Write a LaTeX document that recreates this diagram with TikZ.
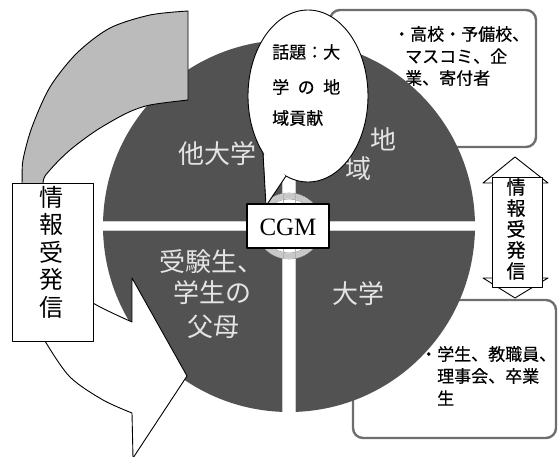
\documentclass[tikz,border=0pt]{standalone}
\usepackage{fontspec}
\setmainfont{Noto Sans CJK JP}
\newfontfamily\heavyjp[FakeBold=0.5]{Noto Sans CJK JP}
\newfontfamily\cgmfont{Liberation Serif}
\definecolor{darkpie}{RGB}{82,82,82}
\definecolor{lightband}{RGB}{187,187,187}
\definecolor{boxline}{RGB}{110,110,110}
\definecolor{labeltext}{RGB}{228,228,228}
\definecolor{ringgray}{RGB}{200,200,200}
\tikzset{
  infobox/.style={draw=boxline, line width=2.4pt, rounded corners=10pt, fill=white},
  boxtext/.style={inner sep=0pt, anchor=west, font=\heavyjp\fontsize{17}{20}\selectfont},
  bubbletext/.style={inner sep=0pt, anchor=west, font=\heavyjp\fontsize{17}{20}\selectfont},
  pielabel/.style={inner sep=0pt, text=labeltext, align=center, font=\fontsize{26}{31}\selectfont},
  outlined/.style={draw=black, line width=0.9pt, line join=round},
  bandstyle/.style={fill=white, draw=gray!40, line width=0.7pt},
}
\begin{document}
\begin{tikzpicture}[x=1pt,y=-1pt]
\useasboundingbox (0,0) rectangle (558,457);

% information boxes (behind the circle)
\draw[infobox] (330,10) rectangle (536,147);
\node[boxtext] (tr1) at (393,34) {・高校・予備校、};
\node[boxtext] (tr2) at (405,56) {マスコミ、企};
\node[boxtext] (tr3) at (405,78) {業、寄付者};

\draw[infobox] (353,300) rectangle (556,438);
\node[boxtext] (br1) at (420,354) {・学生、教職員、};
\node[boxtext] (br2) at (437,376) {理事会、卒業};
\node[boxtext] (br3) at (437,398) {生};

% the big circle in four quarters
\fill[darkpie] (289,226) circle [radius=186];
\begin{scope}
  \clip (289,226) circle [radius=186];
  \draw[bandstyle] (95,221.5) rectangle (480,230.5);
  \draw[bandstyle] (282,35) rectangle (295,420);
\end{scope}
% centre ring
\fill[white] (289,226) circle [radius=33];
\draw[ringgray, line width=5pt] (289,226) circle [radius=30];
\draw[gray!75, line width=0.6pt] (289,226) circle [radius=33];
\draw[gray!75, line width=0.6pt] (289,226) circle [radius=27];
\draw[gray!60, line width=0.6pt] (283,193) -- (283,259) (295,193) -- (295,259);

% quarter labels
\node[pielabel] (q1) at (217,154) {他大学};
\node[pielabel] (q2a) at (383,139) {地};
\node[pielabel] (q2b) at (358,169) {域};
\node[pielabel] (q3a) at (211,262) {受験生、};
\node[pielabel] (q3b) at (212,293) {学生の};
\node[pielabel] (q3c) at (213,327) {父母};
\node[pielabel] (q4) at (358,294) {大学};

% left circular arrow: grey tail part
\filldraw[outlined, fill=lightband]
  plot[smooth] coordinates {(188,11) (150,15) (110,28) (77,53) (50,87) (32,127) (23,160) (22,183) (20,225)}
  -- plot[smooth] coordinates {(44,225) (43,183) (50,170) (70,150) (97,130) (127,113) (150,105) (188,100)}
  -- cycle;
% left circular arrow: white head part
\filldraw[outlined, fill=white]
  plot[smooth] coordinates {(20,225) (22,275) (31,312) (45,341) (70,377) (103,400) (132,413)}
  -- (133,458) -- (187,376) -- (132,278) -- (132,322)
  -- plot[smooth] coordinates {(132,322) (93,303) (66,280) (50,255) (44,225)}
  -- cycle;

% left text box
\draw[outlined, fill=white] (12,183) rectangle (93,341);
\node[inner sep=0pt, align=center, font=\fontsize{24}{27.5}\selectfont] (lefttext) at (51,252) {情\\報\\受\\発\\信};

% right double arrow with text box
\filldraw[outlined, fill=white] (515,157) -- (548,183) -- (535,183) -- (535,278) -- (548,278)
  -- (515,298) -- (483,278) -- (495,278) -- (495,183) -- (483,183) -- cycle;
\draw[outlined, fill=white] (492,177) rectangle (542,287);
\node[inner sep=0pt, align=center, font=\heavyjp\fontsize{19}{21}\selectfont] (righttext) at (516,229) {情\\報\\受\\発\\信};

% speech bubble
\filldraw[outlined, fill=white] (308,96) ellipse [x radius=60, y radius=86];
\fill[white] (263.5,153) -- (266,205) -- (286,176.5) -- cycle;
\draw[outlined] (263,153) -- (266,206) -- (286,176);
\node[bubbletext] (b1) at (272,52) {話題：大};
\node[bubbletext] (b2) at (272,87) {学\hspace{8.5pt}の\hspace{8.5pt}地};
\node[bubbletext] (b3) at (272,118) {域貢献};

% CGM box
\draw[outlined, line width=1.1pt, fill=white] (247,204) rectangle (329,248);
\node[inner sep=0pt, font=\cgmfont\fontsize{25}{28}\selectfont] (cgm) at (288,227) {CGM};
\end{tikzpicture}
\end{document}
